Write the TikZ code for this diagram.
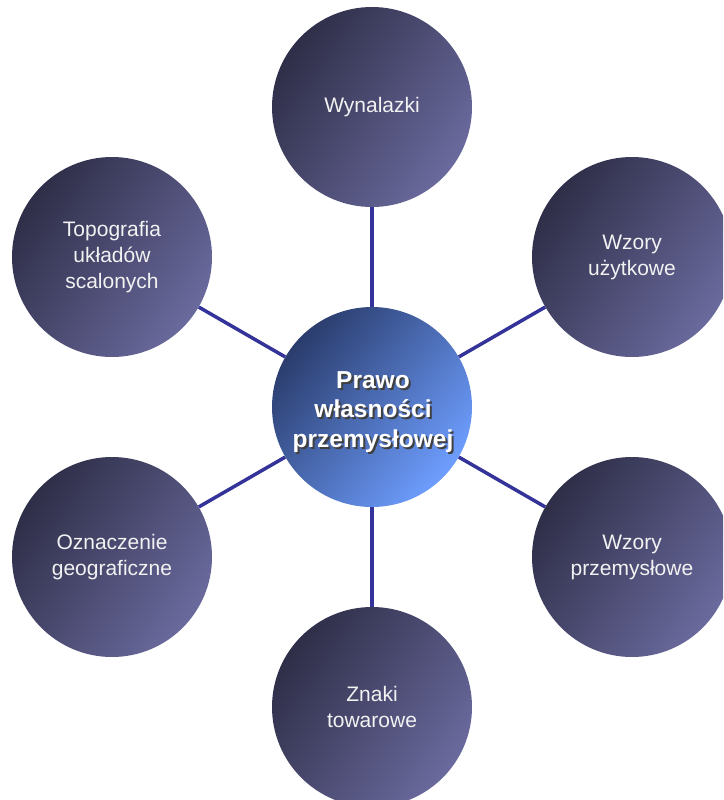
\documentclass[tikz,border=0pt]{standalone}
\usepackage{fontspec}
\setmainfont{Liberation Sans}
\definecolor{odark}{HTML}{2E2E48}
\definecolor{olight}{HTML}{6A6A9E}
\definecolor{cdark}{HTML}{2A3C6C}
\definecolor{clight}{HTML}{6E9EFF}
\definecolor{linkc}{HTML}{333399}
\definecolor{otext}{HTML}{F2F2F2}
\tikzset{
  outer/.style={circle, minimum size=200pt, inner sep=0pt, top color=odark, bottom color=olight, shading angle=55, text=otext, align=center, font=\fontsize{21}{26}\selectfont},
  hub/.style={circle, minimum size=200pt, inner sep=0pt, top color=cdark, bottom color=clight, shading angle=50},
  hubtext/.style={align=center, font=\bfseries\fontsize{24.5}{29.5}\selectfont, text=white},
  hubshadow/.style={align=center, font=\bfseries\fontsize{24.5}{29.5}\selectfont, text=black!75},
  link/.style={draw=linkc, line width=3.5pt}
}
\begin{document}
\begin{tikzpicture}[x=1pt,y=-1pt]
\useasboundingbox (0,0) rectangle (723,800);
\clip (0,0) rectangle (723,800);
\node[hub] (c) at (372,407) {};
\node[outer] (o1) at (372,107) {Wynalazki};
\node[outer] (o2) at (632,257) {Wzory\\użytkowe};
\node[outer] (o3) at (632,557) {Wzory\\przemysłowe};
\node[outer] (o4) at (372,707) {Znaki\\towarowe};
\node[outer] (o5) at (112,557) {Oznaczenie\\geograficzne};
\node[outer] (o6) at (112,257) {Topografia\\układów\\scalonych};
\foreach \o in {o1,o2,o3,o4,o5,o6} { \draw[link] (c) -- (\o); }
\node[hubshadow] (cs) at (375,414) {Prawo\\własności\\przemysłowej};
\node[hubtext] (ct) at (373,412) {Prawo\\własności\\przemysłowej};
\end{tikzpicture}
\end{document}
